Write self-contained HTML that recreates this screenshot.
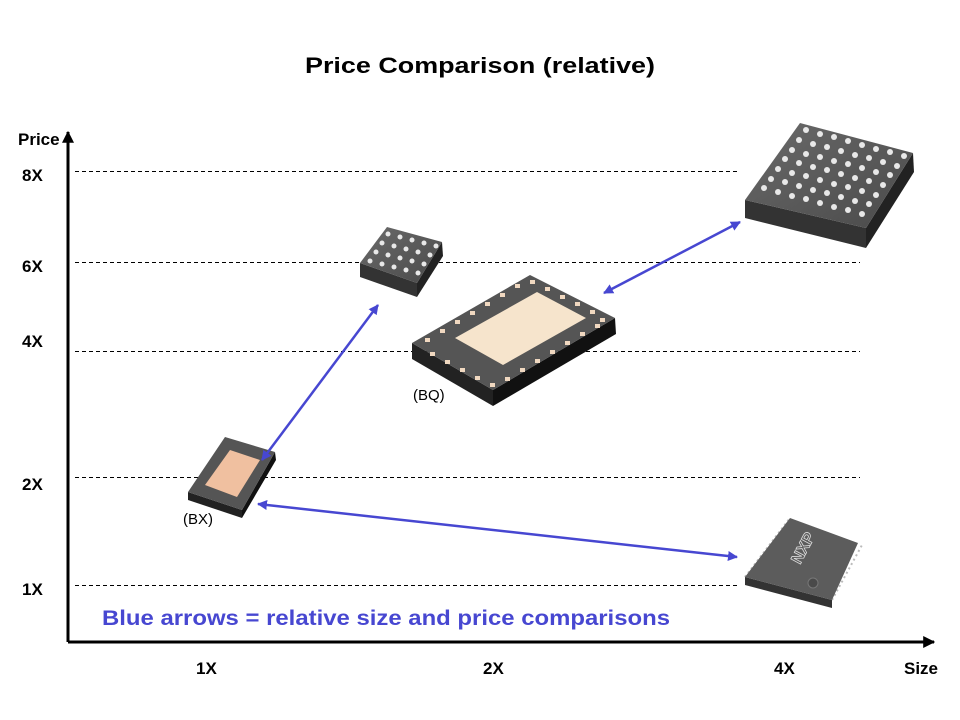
<!DOCTYPE html>
<html><head><style>body{margin:0;background:#fff}svg{display:block}</style></head><body>
<svg width="960" height="720" viewBox="0 0 960 720" xmlns="http://www.w3.org/2000/svg" font-family="Liberation Sans, Arial, sans-serif">
<defs>
<marker id="ah" viewBox="0 0 10 10" refX="9" refY="5" markerWidth="4" markerHeight="4" orient="auto-start-reverse"><path d="M0,0L10,5L0,10z" fill="#4747d1"/></marker>
<marker id="ak" viewBox="0 0 10 10" refX="9" refY="5" markerWidth="4" markerHeight="4" orient="auto"><path d="M0,0L10,5L0,10z" fill="#000"/></marker>
<linearGradient id="tg" x1="0" y1="0" x2="1" y2="1"><stop offset="0" stop-color="#6a6a6a"/><stop offset="1" stop-color="#4a4a4a"/></linearGradient>
<radialGradient id="ball"><stop offset="0" stop-color="#fff"/><stop offset="1" stop-color="#aaa"/></radialGradient>
</defs>
<text x="480" y="73" text-anchor="middle" font-size="22" font-weight="bold" textLength="350" lengthAdjust="spacingAndGlyphs">Price Comparison (relative)</text>
<g stroke="#000" stroke-width="1" stroke-dasharray="4,3">
<line x1="75" y1="171.5" x2="738" y2="171.5"/><line x1="75" y1="262.5" x2="860" y2="262.5"/><line x1="75" y1="351.5" x2="860" y2="351.5"/><line x1="75" y1="477.5" x2="860" y2="477.5"/><line x1="75" y1="585.5" x2="740" y2="585.5"/>
</g>
<line x1="68" y1="642" x2="68" y2="132" stroke="#000" stroke-width="3" marker-end="url(#ak)"/>
<line x1="68" y1="642" x2="934" y2="642" stroke="#000" stroke-width="3" marker-end="url(#ak)"/>
<g font-size="17" font-weight="bold">
<text x="18" y="145">Price</text><text x="22" y="181">8X</text><text x="22" y="272">6X</text><text x="22" y="347">4X</text><text x="22" y="490">2X</text><text x="22" y="595">1X</text>
<text x="196" y="674">1X</text><text x="483" y="674">2X</text><text x="774" y="674">4X</text><text x="904" y="674">Size</text>
</g>
<text x="102" y="625" font-size="21" font-weight="bold" fill="#4747d1" textLength="568" lengthAdjust="spacingAndGlyphs">Blue arrows = relative size and price comparisons</text>
<text x="413" y="400" font-size="15">(BQ)</text><text x="183" y="524" font-size="15">(BX)</text>
<polygon points="745,200 745,218 866,248 866,228" fill="#333"/>
<polygon points="866,228 866,248 914,172 913,153" fill="#222"/>
<polygon points="800,123 913,153 866,228 745,200" fill="url(#tg)"/>
<polygon points="360,263 360,277 417,297 417,283" fill="#333"/>
<polygon points="417,283 417,297 443,256 442,242" fill="#222"/>
<polygon points="387,227 442,242 417,283 360,263" fill="url(#tg)"/>
<polygon points="412,343 412,359 493,406 493,390" fill="#222"/>
<polygon points="493,390 493,406 616,334 615,318" fill="#111"/>
<polygon points="412,343 530,275 615,318 493,390" fill="#555"/>
<polygon points="455,338 537,292 586,318 503,365" fill="#f6e4cc"/>
<polygon points="188,492 188,500 242,518 242,510" fill="#222"/>
<polygon points="242,510 242,518 276,460 275,452" fill="#111"/>
<polygon points="188,492 225,437 275,452 242,510" fill="#555"/>
<polygon points="205,485 230,450 260,460 237,497" fill="#f0c0a0"/>
<g stroke="#bbb" stroke-width="2">
<line x1="745" y1="577" x2="790" y2="518" stroke-dasharray="2,3"/>
<line x1="832" y1="600" x2="862" y2="545" stroke-dasharray="2,3"/>
</g>
<polygon points="745,577 745,585 832,608 832,600" fill="#333"/>
<polygon points="790,518 858,543 832,600 745,577" fill="#5c5c5c"/>
<text x="800" y="565" font-size="16" font-weight="bold" fill="none" stroke="#ddd" stroke-width="0.8" transform="rotate(-62 800 565)">NXP</text>
<circle cx="813" cy="583" r="5" fill="#4a4a4a" stroke="#777"/>
<g stroke="#4747d1" stroke-width="2.5" marker-start="url(#ah)" marker-end="url(#ah)">
<line x1="262" y1="460" x2="378" y2="305"/><line x1="604" y1="293" x2="740" y2="222"/><line x1="258" y1="504" x2="737" y2="557"/>
</g>
<g fill="#e8e8e8">
<circle cx="806" cy="130" r="3"/><circle cx="820" cy="134" r="3"/><circle cx="834" cy="137" r="3"/><circle cx="848" cy="141" r="3"/><circle cx="862" cy="145" r="3"/><circle cx="876" cy="149" r="3"/><circle cx="890" cy="152" r="3"/><circle cx="904" cy="156" r="3"/>
<circle cx="799" cy="140" r="3"/><circle cx="813" cy="144" r="3"/><circle cx="827" cy="147" r="3"/><circle cx="841" cy="151" r="3"/><circle cx="855" cy="155" r="3"/><circle cx="869" cy="158" r="3"/><circle cx="883" cy="162" r="3"/><circle cx="897" cy="166" r="3"/>
<circle cx="792" cy="150" r="3"/><circle cx="806" cy="154" r="3"/><circle cx="820" cy="157" r="3"/><circle cx="834" cy="161" r="3"/><circle cx="848" cy="164" r="3"/><circle cx="862" cy="168" r="3"/><circle cx="876" cy="172" r="3"/><circle cx="890" cy="175" r="3"/>
<circle cx="785" cy="159" r="3"/><circle cx="799" cy="163" r="3"/><circle cx="813" cy="167" r="3"/><circle cx="827" cy="170" r="3"/><circle cx="841" cy="174" r="3"/><circle cx="855" cy="178" r="3"/><circle cx="869" cy="181" r="3"/><circle cx="883" cy="185" r="3"/>
<circle cx="778" cy="169" r="3"/><circle cx="792" cy="173" r="3"/><circle cx="806" cy="176" r="3"/><circle cx="820" cy="180" r="3"/><circle cx="834" cy="184" r="3"/><circle cx="848" cy="187" r="3"/><circle cx="862" cy="191" r="3"/><circle cx="876" cy="195" r="3"/>
<circle cx="771" cy="179" r="3"/><circle cx="785" cy="182" r="3"/><circle cx="799" cy="186" r="3"/><circle cx="813" cy="190" r="3"/><circle cx="827" cy="193" r="3"/><circle cx="841" cy="197" r="3"/><circle cx="855" cy="201" r="3"/><circle cx="869" cy="204" r="3"/>
<circle cx="764" cy="188" r="3"/><circle cx="778" cy="192" r="3"/><circle cx="792" cy="196" r="3"/><circle cx="806" cy="199" r="3"/><circle cx="820" cy="203" r="3"/><circle cx="834" cy="207" r="3"/><circle cx="848" cy="210" r="3"/><circle cx="862" cy="214" r="3"/>
<circle cx="388" cy="234" r="2.5"/><circle cx="400" cy="237" r="2.5"/><circle cx="412" cy="240" r="2.5"/><circle cx="424" cy="243" r="2.5"/><circle cx="436" cy="246" r="2.5"/>
<circle cx="382" cy="243" r="2.5"/><circle cx="394" cy="246" r="2.5"/><circle cx="406" cy="249" r="2.5"/><circle cx="418" cy="252" r="2.5"/><circle cx="430" cy="255" r="2.5"/>
<circle cx="376" cy="252" r="2.5"/><circle cx="388" cy="255" r="2.5"/><circle cx="400" cy="258" r="2.5"/><circle cx="412" cy="261" r="2.5"/><circle cx="424" cy="264" r="2.5"/>
<circle cx="370" cy="261" r="2.5"/><circle cx="382" cy="264" r="2.5"/><circle cx="394" cy="267" r="2.5"/><circle cx="406" cy="270" r="2.5"/><circle cx="418" cy="273" r="2.5"/>
</g>
<g fill="#f0d8c0">
<rect x="425" y="338" width="5" height="4"/><rect x="440" y="329" width="5" height="4"/><rect x="455" y="320" width="5" height="4"/><rect x="470" y="311" width="5" height="4"/><rect x="485" y="302" width="5" height="4"/><rect x="500" y="293" width="5" height="4"/><rect x="515" y="284" width="5" height="4"/><rect x="530" y="280" width="5" height="4"/>
<rect x="545" y="287" width="5" height="4"/><rect x="560" y="295" width="5" height="4"/><rect x="575" y="302" width="5" height="4"/><rect x="590" y="310" width="5" height="4"/><rect x="600" y="318" width="5" height="4"/>
<rect x="430" y="352" width="5" height="4"/><rect x="445" y="360" width="5" height="4"/><rect x="460" y="368" width="5" height="4"/><rect x="475" y="376" width="5" height="4"/><rect x="490" y="383" width="5" height="4"/>
<rect x="505" y="377" width="5" height="4"/><rect x="520" y="368" width="5" height="4"/><rect x="535" y="359" width="5" height="4"/><rect x="550" y="350" width="5" height="4"/><rect x="565" y="341" width="5" height="4"/><rect x="580" y="332" width="5" height="4"/><rect x="595" y="324" width="5" height="4"/>
</g>
</svg>
</body></html>
